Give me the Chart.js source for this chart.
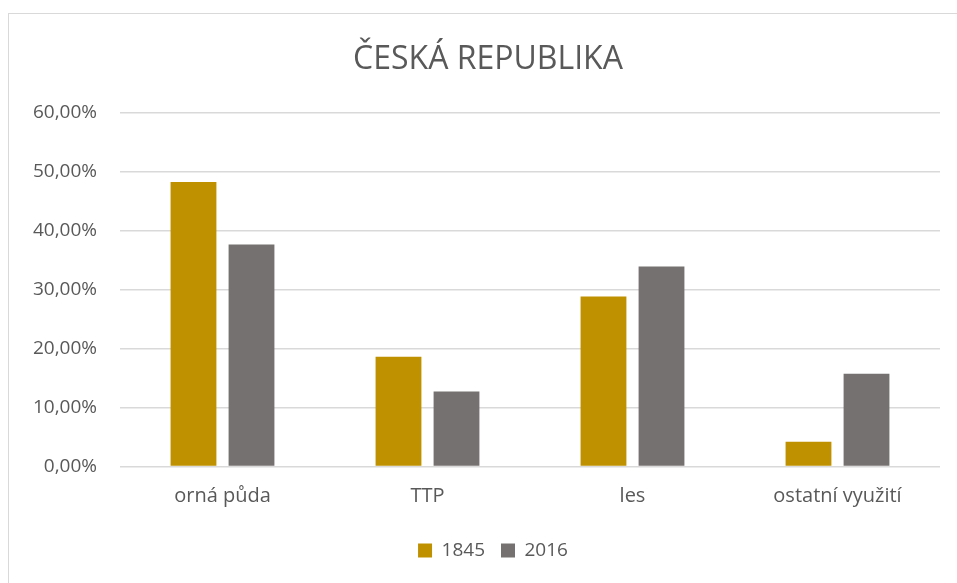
<!DOCTYPE html>
<html>
<head>
<meta charset="utf-8">
<script src="https://cdn.jsdelivr.net/npm/chart.js@4"></script>
<style>
  html, body { margin: 0; padding: 0; background: #ffffff; overflow: hidden; }
  #wrap { position: relative; width: 957px; height: 583px; }
  #frame { position: absolute; left: 8px; top: 13px; width: 980px; height: 600px;
           border: 1px solid #d9d9d9; box-sizing: border-box; pointer-events: none; }
  canvas { position: absolute; left: 0; top: 0; }
</style>
</head>
<body>
<div id="wrap">
  <canvas id="c" width="957" height="583"></canvas>
  <div id="frame"></div>
</div>
<script>
const categories = ["orná půda", "TTP", "les", "ostatní využití"];
const series1845 = [48.2, 18.6, 28.8, 4.2];
const series2016 = [37.6, 12.7, 33.9, 15.7];
const seriesNames = ["1845", "2016"];
const titleText = "ČESKÁ REPUBLIKA";

const textColor = "#595959";
const fontFamily = "'Open Sans', 'Liberation Sans', sans-serif";

// shift title and legend horizontally to match the reference centring
const centreShift = {
  id: "centreShift",
  afterLayout(chart) {
    if (chart.titleBlock) { chart.titleBlock.left += 5; chart.titleBlock.right += 5; }
    if (chart.legend) { chart.legend.left += 10; chart.legend.right += 10; }
  }
};

new Chart(document.getElementById("c"), {
  type: "bar",
  data: {
    labels: categories,
    datasets: [
      { label: seriesNames[0], data: series1845, backgroundColor: "#bf9000", borderWidth: 0 },
      { label: seriesNames[1], data: series2016, backgroundColor: "#767171", borderWidth: 0 }
    ]
  },
  plugins: [centreShift],
  options: {
    responsive: false,
    animation: false,
    devicePixelRatio: 1,
    layout: { padding: { left: 26, right: 17, top: 20, bottom: 13 } },
    datasets: { bar: { categoryPercentage: 0.566, barPercentage: 0.79 } },
    plugins: {
      title: {
        display: true,
        text: titleText,
        color: textColor,
        font: { family: fontFamily, size: 32, weight: "normal", lineHeight: 1.2 },
        padding: { top: 21, bottom: 33 }
      },
      legend: {
        position: "bottom",
        labels: {
          color: textColor,
          font: { family: fontFamily, size: 19 },
          boxWidth: 14, boxHeight: 14, padding: 16
        }
      },
      tooltip: { enabled: false }
    },
    scales: {
      x: {
        afterFit: (s) => { s.height = 58.5; },
        grid: { display: false, drawTicks: false },
        border: { display: false },
        ticks: { color: textColor, font: { family: fontFamily, size: 20 }, padding: 18 }
      },
      y: {
        min: 0, max: 60,
        afterFit: (s) => { s.width = 94; },
        grid: { color: "#d9d9d9", lineWidth: 1.5, drawTicks: false },
        border: { display: false },
        ticks: {
          stepSize: 10,
          color: textColor,
          font: { family: fontFamily, size: 19 },
          padding: 23,
          callback: (v) => v.toFixed(2).replace(".", ",") + "%"
        }
      }
    }
  }
});
</script>
</body>
</html>
